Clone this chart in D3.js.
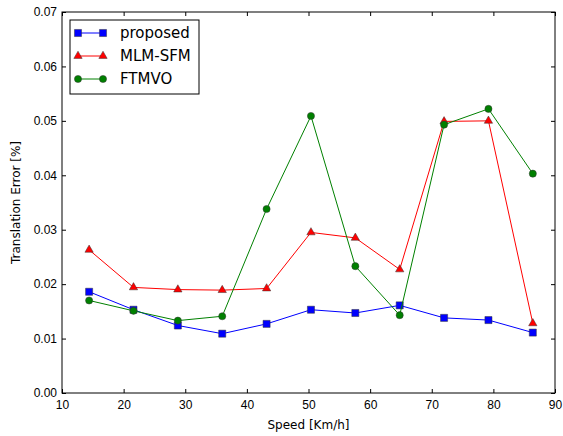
<!DOCTYPE html>
<html>
<head>
<meta charset="utf-8">
<script src="https://cdn.jsdelivr.net/npm/d3@7"></script>
<style>
  body { margin: 0; background: #fff; }
  svg { font-family: "DejaVu Sans", sans-serif; }
</style>
</head>
<body>
<svg id="chart" width="563" height="436"></svg>
<script>
// speeds in km/h
const speeds = [14.4, 21.6, 28.8, 36.0, 43.2, 50.4, 57.6, 64.8, 72.0, 79.2, 86.4];
const proposed = [0.0186, 0.0153, 0.0124, 0.0109, 0.0127, 0.0153, 0.0147, 0.0161, 0.0138, 0.0134, 0.0111];
const mlmSfm = [0.0263, 0.0194, 0.0190, 0.0189, 0.0192, 0.0295, 0.0285, 0.0227, 0.0499, 0.0500, 0.0128];
const ftmvo = [0.0170, 0.0151, 0.0133, 0.0141, 0.0338, 0.0509, 0.0233, 0.0143, 0.0493, 0.0522, 0.0403];
const xTicks = [10, 20, 30, 40, 50, 60, 70, 80, 90];
const yTicks = [0, 0.01, 0.02, 0.03, 0.04, 0.05, 0.06, 0.07];

const series = [
    {name: 'proposed', values: proposed, color: '#0000ff', marker: 'square'},
    {name: 'MLM-SFM', values: mlmSfm, color: '#ff0000', marker: 'triangle'},
    {name: 'FTMVO', values: ftmvo, color: '#008000', marker: 'circle'}
];

const svg = d3.select('#chart');
const plot = {left: 62, right: 555, top: 12, bottom: 393};

const x = d3.scaleLinear().domain([10, 90]).range([plot.left, plot.right]);
const y = d3.scaleLinear().domain([0, 0.07]).range([plot.bottom, plot.top]);

const symbols = {
    square: d3.symbol().type(d3.symbolSquare).size(50),
    triangle: d3.symbol().type(d3.symbolTriangle).size(30),
    circle: d3.symbol().type(d3.symbolCircle).size(40)
};

// frame
svg.append('rect')
    .attr('x', plot.left).attr('y', plot.top)
    .attr('width', plot.right - plot.left).attr('height', plot.bottom - plot.top)
    .attr('fill', 'none').attr('stroke', '#000').attr('stroke-width', 1);

// inward ticks on all sides
const xAxisB = d3.axisBottom(x).tickValues(xTicks).tickSize(-4).tickPadding(7).tickFormat(d3.format('d'));
const xAxisT = d3.axisTop(x).tickValues(xTicks).tickSize(-4).tickFormat('');
const yAxisL = d3.axisLeft(y).tickValues(yTicks).tickSize(-4).tickPadding(5).tickFormat(d3.format('.2f'));
const yAxisR = d3.axisRight(y).tickValues(yTicks).tickSize(-4).tickFormat('');

const styleAxis = g => {
    g.select('.domain').remove();
    g.selectAll('.tick line').attr('stroke', '#000');
    g.selectAll('.tick text').attr('fill', '#000').style('font-size', '12px');
};

svg.append('g').attr('transform', `translate(0,${plot.bottom})`).call(xAxisB).call(styleAxis);
svg.append('g').attr('transform', `translate(0,${plot.top})`).call(xAxisT).call(styleAxis);
svg.append('g').attr('transform', `translate(${plot.left},0)`).call(yAxisL).call(styleAxis);
svg.append('g').attr('transform', `translate(${plot.right},0)`).call(yAxisR).call(styleAxis);

// axis labels
svg.append('text')
    .attr('x', (plot.left + plot.right) / 2).attr('y', 429)
    .attr('text-anchor', 'middle')
    .style('font-size', '12px')
    .text('Speed [Km/h]');

svg.append('text')
    .attr('transform', `translate(20,${(plot.top + plot.bottom) / 2}) rotate(-90)`)
    .attr('text-anchor', 'middle')
    .style('font-size', '12px')
    .text('Translation Error [%]');

const line = d3.line()
    .x((d, i) => x(speeds[i]))
    .y(d => y(d));

series.forEach(s => {
    svg.append('path')
        .datum(s.values)
        .attr('fill', 'none')
        .attr('stroke', s.color)
        .attr('stroke-width', 1)
        .attr('d', line);

    svg.selectAll(null)
        .data(s.values)
        .enter().append('path')
        .attr('d', symbols[s.marker])
        .attr('transform', (d, i) => `translate(${x(speeds[i])},${y(d)})`)
        .attr('fill', s.color)
        .attr('stroke', '#333')
        .attr('stroke-width', 0.5);
});

// legend
const legend = svg.append('g').attr('transform', 'translate(70,20)');
legend.append('rect')
    .attr('width', 129).attr('height', 74)
    .attr('fill', '#fff').attr('stroke', '#000').attr('stroke-width', 1);

series.forEach((s, i) => {
    let ly = 13 + i * 23;
    legend.append('line')
        .attr('x1', 8).attr('x2', 33)
        .attr('y1', ly).attr('y2', ly)
        .attr('stroke', s.color).attr('stroke-width', 1);
    [8, 33].forEach(px => {
        legend.append('path')
            .attr('d', symbols[s.marker])
            .attr('transform', `translate(${px},${ly})`)
            .attr('fill', s.color)
            .attr('stroke', '#333')
            .attr('stroke-width', 0.5);
    });
    legend.append('text')
        .attr('x', 50).attr('y', ly + 5)
        .style('font-size', '15px')
        .text(s.name);
});
</script>
</body>
</html>
